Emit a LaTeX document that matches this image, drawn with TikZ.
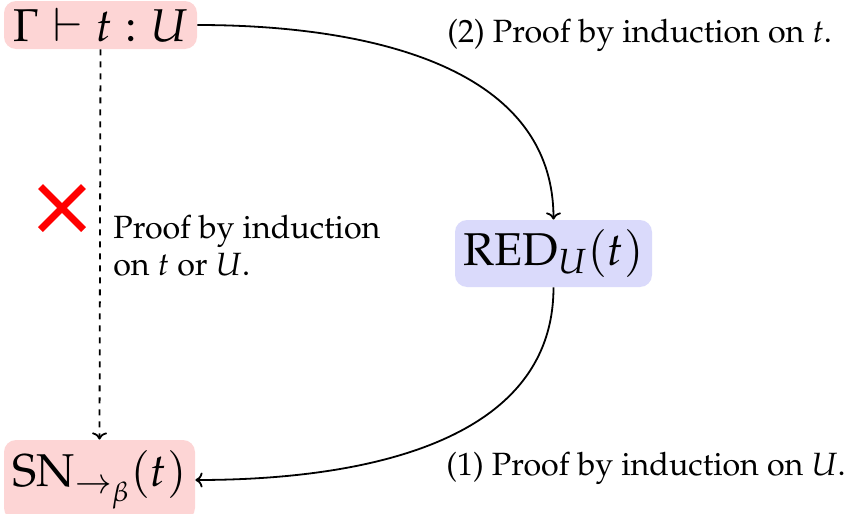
\documentclass[tikz,border=0pt]{standalone}
\usepackage[T1]{fontenc}
\usepackage{mathpazo}
\usetikzlibrary{arrows.meta,shapes.misc}
\definecolor{pinkbg}{RGB}{253,213,213}
\definecolor{bluebg}{RGB}{218,218,251}
\tikzset{
  term/.style={rounded corners=6pt, inner sep=0pt, font=\fontsize{23}{27}\selectfont},
  lbl/.style={font=\fontsize{16.1}{18.6}\selectfont, inner sep=0pt},
  conn/.style={->, line width=0.9pt},
}
\begin{document}
\begin{tikzpicture}[x=0.5pt,y=-0.5pt]
\useasboundingbox (0,0) rectangle (848,514);
\node[term, fill=pinkbg, minimum width=96.5pt, minimum height=24pt] (A) at (100.5,25) {$\Gamma\vdash t:U$};
\node[term, fill=bluebg, minimum width=98.5pt, minimum height=33.5pt] (B) at (553.5,253.5) {$\mathrm{RED}_U(t)$};
\node[term, fill=pinkbg, minimum width=95.5pt, minimum height=40pt] (C) at (99.5,480) {$\mathrm{SN}_{\to_\beta}(t)$};
\draw[conn] (A.east) to[out=0,in=90] (B.north);
\draw[conn] (B.south) to[out=-90,in=0] (C.east);
\draw[conn, dashed] (A.south) -- (C.north);
\node[draw=red, line width=3.5pt, cross out, minimum size=18pt, inner sep=0pt] (X) at (62,208) {};
\node[lbl, anchor=north west, align=left] (L) at (113,215) {Proof by induction\\on $t$ or $U$.};
\node[lbl, anchor=west] (L2) at (447,35) {(2) Proof by induction on $t$.};
\node[lbl, anchor=west] (L1) at (446,468) {(1) Proof by induction on $U$.};
\end{tikzpicture}
\end{document}
